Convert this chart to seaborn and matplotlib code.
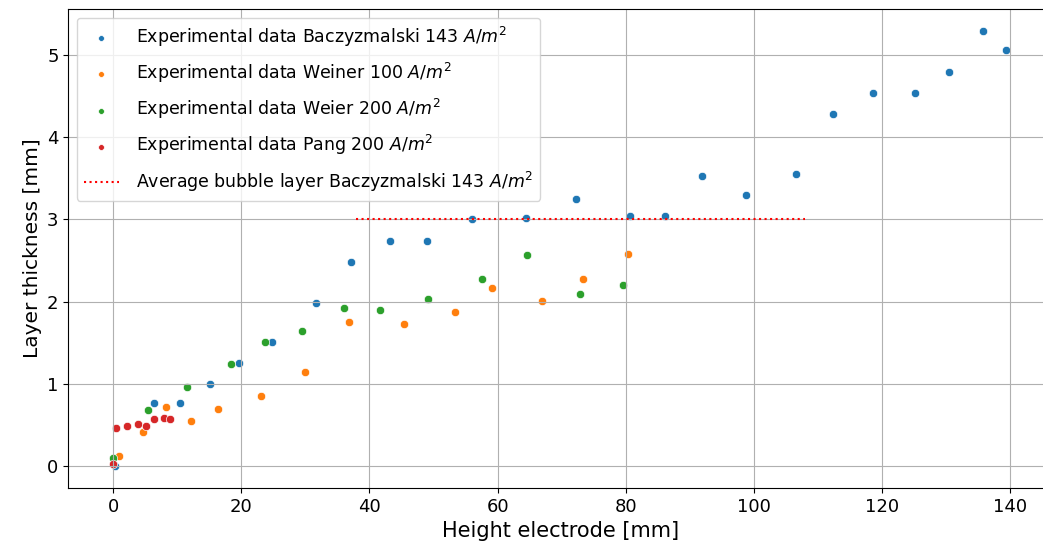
import matplotlib
matplotlib.use("Agg")
import matplotlib.pyplot as plt
import seaborn as sns

# Baczyzmalski 143 A/m2
bacz_x = [0.3, 6.3, 10.5, 15.1, 19.6, 24.8, 31.6, 37.1, 43.2, 49.0, 56.0, 64.4,
          72.3, 80.6, 86.1, 91.9, 98.7, 106.5, 112.3, 118.6, 125.2, 130.4, 135.7, 139.4]
bacz_y = [0.0, 0.77, 0.77, 1.00, 1.26, 1.51, 1.98, 2.48, 2.73, 2.73, 3.00, 3.01,
          3.25, 3.04, 3.04, 3.53, 3.29, 3.55, 4.28, 4.53, 4.53, 4.79, 5.29, 5.05]

# Weiner 100 A/m2
weiner_x = [0.9, 4.7, 8.3, 12.1, 16.3, 23.1, 30.0, 36.8, 45.4, 53.3, 59.1, 66.9, 73.4, 80.3]
weiner_y = [0.12, 0.42, 0.72, 0.55, 0.70, 0.85, 1.15, 1.75, 1.73, 1.87, 2.16, 2.01, 2.28, 2.58]

# Weier 200 A/m2
weier_x = [0.0, 5.5, 11.5, 18.4, 23.7, 29.5, 36.0, 41.7, 49.2, 57.5, 64.6, 72.9, 79.5]
weier_y = [0.10, 0.68, 0.96, 1.24, 1.51, 1.64, 1.92, 1.90, 2.03, 2.28, 2.56, 2.09, 2.20]

# Pang 200 A/m2
pang_x = [0.0, 0.5, 2.2, 3.9, 5.2, 6.4, 8.0, 8.8]
pang_y = [0.03, 0.47, 0.49, 0.51, 0.49, 0.57, 0.59, 0.57]

# average bubble layer
avg_x = [37.9, 108.0]
avg_y = [3.0, 3.0]

palette = sns.color_palette("tab10")

fig = plt.figure(figsize=(10.43, 5.54), dpi=100)
# right side of the axes runs past the figure edge (cropped like the original)
ax = fig.add_axes([0.0655, 0.119, 0.943, 0.865])

sns.scatterplot(x=bacz_x, y=bacz_y, color=palette[0], s=36, ax=ax,
                label="Experimental data Baczyzmalski 143 $A/m^2$")
sns.scatterplot(x=weiner_x, y=weiner_y, color=palette[1], s=36, ax=ax,
                label="Experimental data Weiner 100 $A/m^2$")
sns.scatterplot(x=weier_x, y=weier_y, color=palette[2], s=36, ax=ax,
                label="Experimental data Weier 200 $A/m^2$")
sns.scatterplot(x=pang_x, y=pang_y, color=palette[3], s=36, ax=ax,
                label="Experimental data Pang 200 $A/m^2$")
ax.plot(avg_x, avg_y, "r:", lw=1.5,
        label="Average bubble layer Baczyzmalski 143 $A/m^2$")

ax.set_xlim(-7.0, 146.5)
ax.set_ylim(-0.265, 5.555)
ax.set_xticks([0, 20, 40, 60, 80, 100, 120, 140])
ax.set_yticks([0, 1, 2, 3, 4, 5])
ax.grid(True)
ax.tick_params(labelsize=13)
ax.set_xlabel("Height electrode [mm]", fontsize=15)
ax.set_ylabel("Layer thickness [mm]", fontsize=14.5)
ax.legend(loc="upper left", fontsize=12.5, labelspacing=0.7, markerscale=0.7,
          handletextpad=1.0)

fig.savefig("out.png", dpi=100)
